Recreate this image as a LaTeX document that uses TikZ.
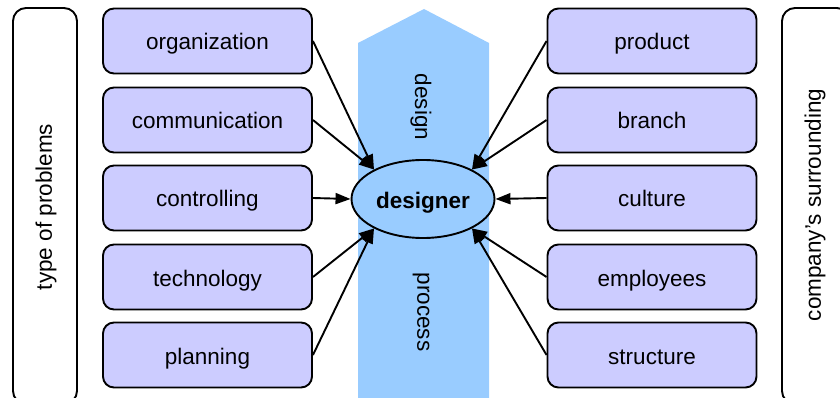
\documentclass[tikz,border=0pt]{standalone}
\usepackage{fontspec}
\setmainfont{Liberation Sans}
\usetikzlibrary{arrows.meta,shapes.geometric}
\definecolor{boxfill}{HTML}{CCCCFF}
\definecolor{flowfill}{HTML}{99CCFF}
\begin{document}
\begin{tikzpicture}[x=1pt,y=-1pt,
  every node/.style={font=\fontsize{22.5}{27}\selectfont},
  topic/.style={draw, line width=1.9pt, rounded corners=11pt, fill=boxfill,
    minimum width=209pt, minimum height=65pt, inner sep=0pt,
    text height=18pt, text depth=0pt},
  frame/.style={draw, line width=1.9pt, rounded corners=13pt},
  influence/.style={line width=1.9pt, -{Triangle[length=15pt,width=11pt]}}]
  \useasboundingbox (0,0) rectangle (840,398);
  \clip (0,0) rectangle (840,398);

  % outer frames
  \draw[frame] (13,8) rectangle (77,404);
  \draw[frame] (782,8) rectangle (850,404);
  \node[rotate=90] (problems) at (46,207) {type of problems};
  \node[rotate=90] (surround) at (815,205) {company's surrounding};

  % design process arrow
  \fill[flowfill] (358,404) -- (358,43) -- (424,9) -- (489,43) -- (489,404) -- cycle;
  \node[rotate=-90] (design) at (421,107) {design};
  \node[rotate=-90] (process) at (421,312) {process};

  % central node
  \node[draw, ellipse, line width=1.9pt, fill=flowfill, minimum width=143pt,
        minimum height=78pt, inner sep=0pt, text height=18pt, text depth=0pt,
        font=\fontsize{22.5}{27}\selectfont\bfseries]
        (des) at (423,199) {designer};

  % left column
  \node[topic] (org)  at (207.5,41)  {organization};
  \node[topic] (comm) at (207.5,120) {communication};
  \node[topic] (ctrl) at (207.5,198) {controlling};
  \node[topic] (tech) at (207.5,277) {technology};
  \node[topic] (plan) at (207.5,355) {planning};

  % right column
  \node[topic] (prod) at (652,41)  {product};
  \node[topic] (bran) at (652,120) {branch};
  \node[topic] (cult) at (652,198) {culture};
  \node[topic] (empl) at (652,277) {employees};
  \node[topic] (stru) at (652,355) {structure};

  % influences on the designer
  \draw[influence] (org.east)  -- (des.149);
  \draw[influence] (comm.east) -- (des.149);
  \draw[influence] (ctrl.east) -- (des.180);
  \draw[influence] (tech.east) -- (des.211);
  \draw[influence] (plan.east) -- (des.211);
  \draw[influence] (prod.west) -- (des.31);
  \draw[influence] (bran.west) -- (des.31);
  \draw[influence] (cult.west) -- (des.0);
  \draw[influence] (empl.west) -- (des.329);
  \draw[influence] (stru.west) -- (des.329);
\end{tikzpicture}
\end{document}
